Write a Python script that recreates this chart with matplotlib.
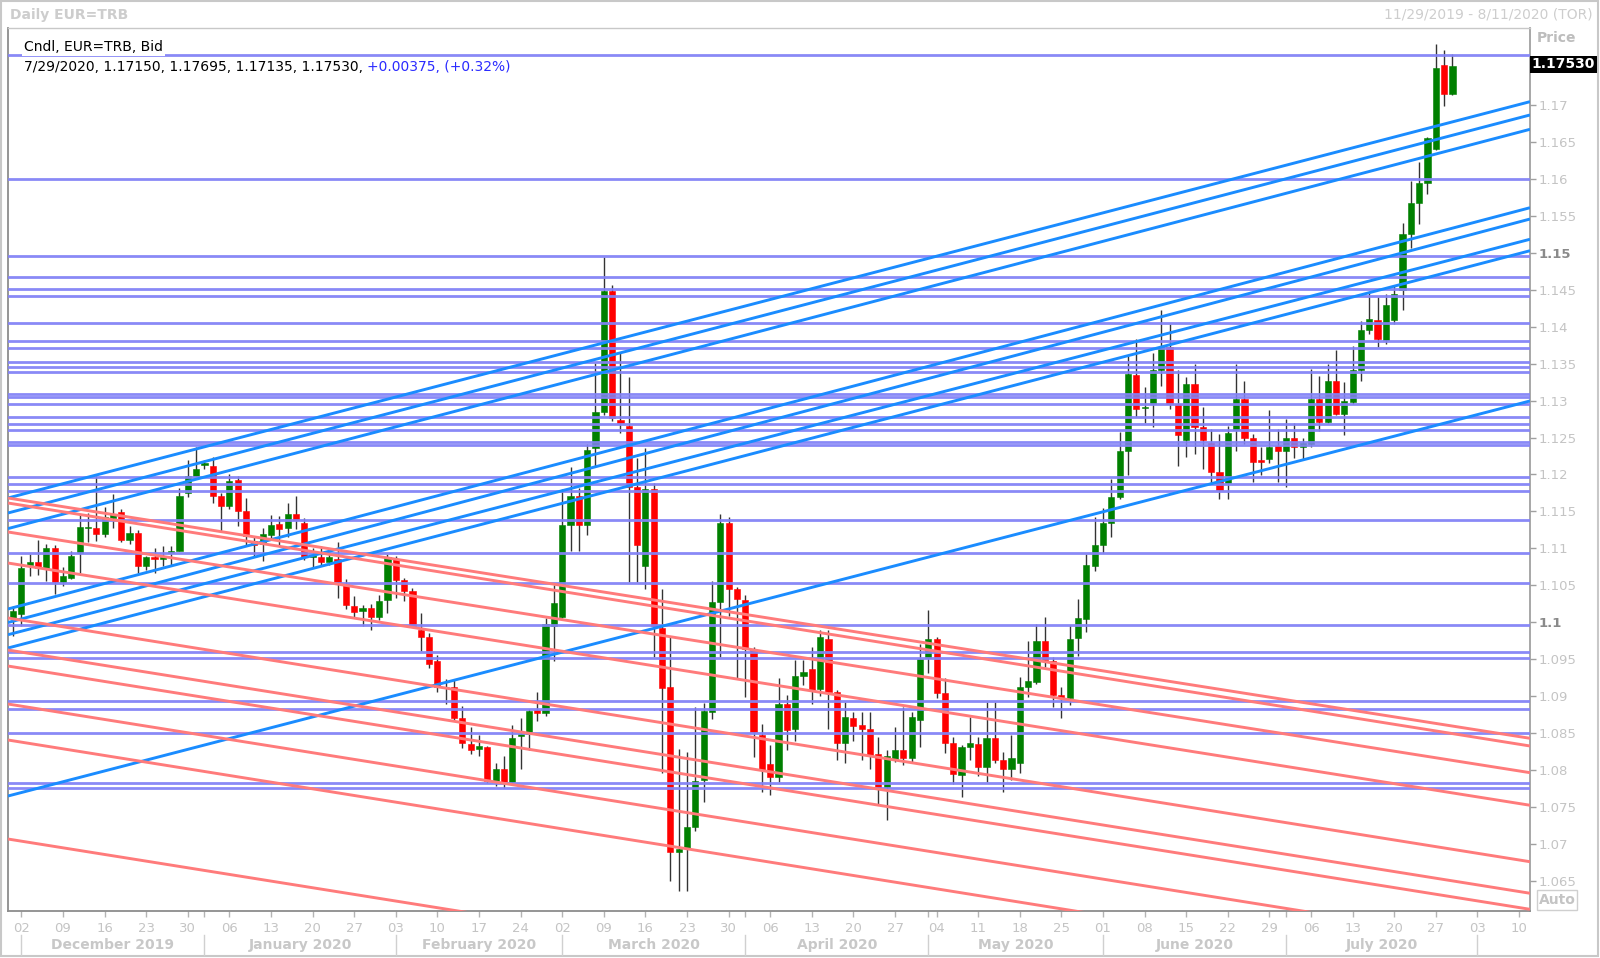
import numpy as np
import pandas as pd
import matplotlib
matplotlib.use("Agg")
import matplotlib.pyplot as plt
from matplotlib.patches import Rectangle
from matplotlib.lines import Line2D
import matplotlib.transforms as mtransforms

# ---------------- data (daily EUR/USD bid, 11/29/2019 .. 7/29/2020) ----------------
opens = [1.1006, 1.1011, 1.1077, 1.1082, 1.1074, 1.1101, 1.1055, 1.1060, 1.1094, 1.1127,
         1.1128, 1.1119, 1.1141, 1.1149, 1.1111, 1.1121, 1.1076, 1.1088, 1.1085, 1.1094,
         1.1096, 1.1175, 1.1198, 1.1213, 1.1211, 1.1171, 1.1157, 1.1192, 1.1151, 1.1110,
         1.1106, 1.1118, 1.1133, 1.1128, 1.1147, 1.1135, 1.1089, 1.1088, 1.1082, 1.1085,
         1.1052, 1.1022, 1.1015, 1.1019, 1.1007, 1.1030, 1.1086, 1.1057, 1.1043, 1.0989,
         1.0980, 1.0948, 1.0912, 1.0912, 1.0871, 1.0835, 1.0828, 1.0831, 1.0785, 1.0802,
         1.0784, 1.0846, 1.0849, 1.0881, 1.0877, 1.0995, 1.1007, 1.1132, 1.1171, 1.1132,
         1.1236, 1.1284, 1.1448, 1.1274, 1.1265, 1.1183, 1.1076, 1.1181, 1.0992, 1.0912,
         1.0689, 1.0695, 1.0723, 1.0787, 1.0878, 1.1028, 1.1135, 1.1045, 1.1030, 1.0962,
         1.0848, 1.0808, 1.0790, 1.0889, 1.0855, 1.0927, 1.0937, 1.0910, 1.0978, 1.0906,
         1.0836, 1.0871, 1.0861, 1.0855, 1.0822, 1.0777, 1.0814, 1.0827, 1.0816, 1.0868,
         1.0951, 1.0978, 1.0904, 1.0836, 1.0793, 1.0831, 1.0835, 1.0804, 1.0844, 1.0814,
         1.0802, 1.0810, 1.0913, 1.0919, 1.0975, 1.0948, 1.0901, 1.0897, 1.0979, 1.1004,
         1.1076, 1.1104, 1.1135, 1.1169, 1.1232, 1.1335, 1.1290, 1.1295, 1.1341, 1.1372,
         1.1296, 1.1246, 1.1323, 1.1264, 1.1242, 1.1203, 1.1188, 1.1260, 1.1302, 1.1250,
         1.1219, 1.1221, 1.1239, 1.1232, 1.1250, 1.1237, 1.1241, 1.1302, 1.1271, 1.1327,
         1.1282, 1.1298, 1.1341, 1.1395, 1.1409, 1.1382, 1.1409, 1.1449, 1.1525, 1.1568,
         1.1595, 1.1641, 1.1754, 1.17150]
highs = [1.1022, 1.1090, 1.1092, 1.1112, 1.1106, 1.1105, 1.1075, 1.1096, 1.1146, 1.1148,
         1.1198, 1.1156, 1.1173, 1.1153, 1.1130, 1.1125, 1.1090, 1.1101, 1.1103, 1.1103,
         1.1182, 1.1220, 1.1237, 1.1219, 1.1224, 1.1175, 1.1200, 1.1198, 1.1168, 1.1117,
         1.1128, 1.1145, 1.1144, 1.1162, 1.1171, 1.1141, 1.1101, 1.1103, 1.1094, 1.1108,
         1.1058, 1.1036, 1.1024, 1.1025, 1.1037, 1.1093, 1.1090, 1.1060, 1.1047, 1.1012,
         1.0986, 1.0956, 1.0923, 1.0923, 1.0887, 1.0858, 1.0848, 1.0833, 1.0810, 1.0819,
         1.0861, 1.0871, 1.0882, 1.0906, 1.1006, 1.1051, 1.1180, 1.1210, 1.1182, 1.1241,
         1.1351, 1.1494, 1.1457, 1.1366, 1.1332, 1.1222, 1.1236, 1.1188, 1.1045, 1.0981,
         1.0829, 1.0824, 1.0886, 1.0891, 1.1056, 1.1146, 1.1143, 1.1048, 1.1037, 1.0967,
         1.0863, 1.0834, 1.0924, 1.0901, 1.0949, 1.0949, 1.0967, 1.0989, 1.0989, 1.0909,
         1.0892, 1.0879, 1.0879, 1.0879, 1.0845, 1.0827, 1.0858, 1.0886, 1.0879, 1.0970,
         1.1017, 1.0980, 1.0925, 1.0845, 1.0834, 1.0872, 1.0845, 1.0892, 1.0892, 1.0825,
         1.0847, 1.0926, 1.0975, 1.0998, 1.1007, 1.0953, 1.0912, 1.0996, 1.1032, 1.1092,
         1.1142, 1.1154, 1.1194, 1.1257, 1.1361, 1.1383, 1.1319, 1.1365, 1.1422, 1.1404,
         1.1341, 1.1332, 1.1349, 1.1292, 1.1262, 1.1255, 1.1265, 1.1349, 1.1326, 1.1255,
         1.1237, 1.1287, 1.1262, 1.1275, 1.1269, 1.1250, 1.1343, 1.1333, 1.1349, 1.1368,
         1.1325, 1.1374, 1.1408, 1.1446, 1.1440, 1.1444, 1.1455, 1.1540, 1.1597, 1.1623,
         1.1657, 1.1783, 1.1775, 1.17695]
lows = [1.0981, 1.0995, 1.1063, 1.1064, 1.1056, 1.1038, 1.1049, 1.1058, 1.1067, 1.1108,
        1.1110, 1.1115, 1.1128, 1.1108, 1.1106, 1.1067, 1.1071, 1.1067, 1.1076, 1.1078,
        1.1096, 1.1169, 1.1198, 1.1207, 1.1161, 1.1124, 1.1153, 1.1130, 1.1103, 1.1090,
        1.1083, 1.1114, 1.1103, 1.1115, 1.1126, 1.1084, 1.1075, 1.1076, 1.1078, 1.1033,
        1.1018, 1.1006, 1.0995, 1.0990, 1.1003, 1.1013, 1.1033, 1.1029, 1.0993, 1.0961,
        1.0938, 1.0905, 1.0889, 1.0866, 1.0830, 1.0822, 1.0819, 1.0783, 1.0779, 1.0776,
        1.0781, 1.0801, 1.0827, 1.0866, 1.0873, 1.0947, 1.1006, 1.1096, 1.1096, 1.1118,
        1.1211, 1.1281, 1.1272, 1.1256, 1.1054, 1.1054, 1.1045, 1.0953, 1.0796, 1.0650,
        1.0636, 1.0636, 1.0717, 1.0757, 1.0869, 1.0953, 1.1009, 1.0925, 1.0899, 1.0818,
        1.0770, 1.0766, 1.0784, 1.0827, 1.0840, 1.0915, 1.0890, 1.0900, 1.0855, 1.0814,
        1.0810, 1.0840, 1.0814, 1.0801, 1.0753, 1.0733, 1.0811, 1.0807, 1.0811, 1.0831,
        1.0932, 1.0897, 1.0823, 1.0781, 1.0764, 1.0813, 1.0792, 1.0784, 1.0810, 1.0771,
        1.0787, 1.0796, 1.0899, 1.0916, 1.0940, 1.0886, 1.0871, 1.0888, 1.0955, 1.0987,
        1.1070, 1.1094, 1.1115, 1.1167, 1.1199, 1.1278, 1.1269, 1.1264, 1.1320, 1.1288,
        1.1212, 1.1224, 1.1228, 1.1208, 1.1188, 1.1167, 1.1167, 1.1232, 1.1241, 1.1190,
        1.1199, 1.1215, 1.1190, 1.1183, 1.1222, 1.1221, 1.1237, 1.1259, 1.1269, 1.1280,
        1.1254, 1.1296, 1.1326, 1.1390, 1.1373, 1.1377, 1.1404, 1.1422, 1.1507, 1.1539,
        1.1580, 1.1639, 1.1699, 1.17135]
closes = [1.1015, 1.1074, 1.1081, 1.1074, 1.1100, 1.1055, 1.1063, 1.1090, 1.1129, 1.1129,
          1.1119, 1.1142, 1.1147, 1.1111, 1.1121, 1.1076, 1.1088, 1.1085, 1.1088, 1.1097,
          1.1171, 1.1198, 1.1208, 1.1215, 1.1171, 1.1157, 1.1191, 1.1151, 1.1117, 1.1104,
          1.1119, 1.1131, 1.1126, 1.1146, 1.1138, 1.1088, 1.1091, 1.1082, 1.1088, 1.1054,
          1.1024, 1.1014, 1.1019, 1.1007, 1.1029, 1.1088, 1.1057, 1.1042, 1.0995, 1.0980,
          1.0943, 1.0912, 1.0913, 1.0871, 1.0837, 1.0827, 1.0833, 1.0785, 1.0802, 1.0784,
          1.0843, 1.0849, 1.0880, 1.0877, 1.0998, 1.1026, 1.1132, 1.1171, 1.1132, 1.1233,
          1.1284, 1.1448, 1.1276, 1.1270, 1.1183, 1.1104, 1.1181, 1.0995, 1.0911, 1.0689,
          1.0693, 1.0723, 1.0785, 1.0880, 1.1027, 1.1135, 1.1045, 1.1031, 1.0964, 1.0852,
          1.0800, 1.0790, 1.0889, 1.0854, 1.0927, 1.0933, 1.0909, 1.0980, 1.0906, 1.0837,
          1.0872, 1.0859, 1.0855, 1.0821, 1.0777, 1.0819, 1.0827, 1.0816, 1.0872, 1.0950,
          1.0978, 1.0904, 1.0837, 1.0795, 1.0831, 1.0837, 1.0804, 1.0844, 1.0814, 1.0802,
          1.0817, 1.0913, 1.0921, 1.0975, 1.0949, 1.0901, 1.0897, 1.0978, 1.1006, 1.1077,
          1.1104, 1.1135, 1.1170, 1.1232, 1.1336, 1.1289, 1.1292, 1.1341, 1.1372, 1.1296,
          1.1254, 1.1323, 1.1264, 1.1246, 1.1203, 1.1179, 1.1256, 1.1302, 1.1250, 1.1217,
          1.1217, 1.1237, 1.1232, 1.1250, 1.1237, 1.1242, 1.1302, 1.1271, 1.1327, 1.1282,
          1.1300, 1.1341, 1.1395, 1.1410, 1.1383, 1.1430, 1.1444, 1.1526, 1.1567, 1.1595,
          1.1655, 1.1750, 1.1715, 1.17530]

# horizontal drawn price levels
h_levels = [1.17677, 1.15999, 1.14957, 1.14677, 1.14514, 1.14419, 1.14054, 1.13811,
            1.13712, 1.13522, 1.13459, 1.13383, 1.13095, 1.13053, 1.12950, 1.12774,
            1.12683, 1.12602, 1.12444, 1.12395, 1.11970, 1.11871, 1.11781, 1.11384,
            1.10934, 1.10528, 1.09957, 1.09598, 1.09521, 1.08939, 1.08823, 1.08506,
            1.07829, 1.07762]
# rising trend lines: price at left edge / right edge of the chart
blue_start = [1.11682, 1.11479, 1.11268, 1.10180, 1.09997, 1.09832, 1.09652, 1.07649]
blue_end = [1.17045, 1.16865, 1.16671, 1.15610, 1.15457, 1.15183, 1.15028, 1.12995]
# falling trend lines
red_start = [1.11682, 1.11614, 1.11222, 1.10802, 1.10058, 1.09625, 1.09408, 1.08894, 1.08407, 1.07067]
red_end = [1.08430, 1.08326, 1.07965, 1.07524, 1.06760, 1.06333, 1.06116, 1.05600, 1.05106, 1.03773]

y_ticks = [1.065, 1.07, 1.075, 1.08, 1.085, 1.09, 1.095, 1.1, 1.105, 1.11, 1.115, 1.12,
           1.125, 1.13, 1.135, 1.14, 1.145, 1.15, 1.155, 1.16, 1.165, 1.17]
bold_ticks = [1.1, 1.15]
month_names = ["December 2019", "January 2020", "February 2020", "March 2020",
               "April 2020", "May 2020", "June 2020", "July 2020"]

# ---------------- figure ----------------
W, H = 1600, 958
fig = plt.figure(figsize=(W / 100, H / 100), dpi=100)
fig.patch.set_facecolor("white")
L, R, T, B = 8, 1530, 28, 911
ax = fig.add_axes([L / W, 1 - B / H, (R - L) / W, (B - T) / H])

dates = pd.bdate_range("2019-11-29", "2020-07-29")
pos = np.arange(len(dates)) - 1          # Monday 2 Dec 2019 -> 0
XMIN, XMAX = -1.61, 181.32
YMIN, YMAX = 1.06093, 1.18042
ax.set_xlim(XMIN, XMAX)
ax.set_ylim(YMIN, YMAX)

o = np.array(opens); h = np.array(highs); lo = np.array(lows); c = np.array(closes)
up = c >= o
col = np.where(up, "#008000", "#ff0000")
ax.vlines(pos, lo, h, color="#333333", lw=1.0, zorder=2)
body_bottom = np.minimum(o, c)
body_h = np.maximum(np.abs(c - o), 0.00007)
ax.bar(pos, body_h, bottom=body_bottom, width=0.74, color=col, edgecolor=col,
       linewidth=0.4, zorder=3)

for lv in h_levels:
    ax.axhline(lv, color="#8383f6", lw=2.0, zorder=4, alpha=0.95)
for s, e in zip(blue_start, blue_end):
    ax.plot([XMIN, XMAX], [s, e], color="#1a8cff", lw=2.1, zorder=5, solid_capstyle="butt")
for s, e in zip(red_start, red_end):
    ax.plot([XMIN, XMAX], [s, e], color="#ff7b7b", lw=2.1, zorder=5, solid_capstyle="butt")

# axes styling
for sp in ["left", "bottom"]:
    ax.spines[sp].set_color("#8c8c8c"); ax.spines[sp].set_linewidth(1.3)
ax.spines["right"].set_color("#a0a0a0"); ax.spines["right"].set_linewidth(1.3)
ax.spines["top"].set_color("#c8c8c8"); ax.spines["top"].set_linewidth(1.0)

ax.yaxis.tick_right()
ax.set_yticks(y_ticks)
ax.set_yticklabels([("%.3f" % v).rstrip("0") for v in y_ticks])
for lab, v in zip(ax.get_yticklabels(), y_ticks):
    if any(abs(v - b) < 1e-9 for b in bold_ticks):
        lab.set_fontweight("bold"); lab.set_color("#8a8a8a")
    else:
        lab.set_color("#c4c4c4")
ax.tick_params(axis="y", direction="out", length=4, width=1, color="#a0a0a0",
               labelsize=9.5, pad=2)

all_days = pd.bdate_range("2019-11-29", "2020-08-11")
all_pos = np.arange(len(all_days)) - 1
mondays = [(p, d) for p, d in zip(all_pos, all_days) if d.weekday() == 0 and p >= 0]
ax.set_xticks([p for p, _ in mondays])
ax.set_xticklabels(["%02d" % d.day for _, d in mondays])
month_starts = []
prev = None
for p, d in zip(all_pos, all_days):
    if p >= 0 and (prev is None or d.month != prev.month):
        month_starts.append(p)
    prev = d
ax.set_xticks(month_starts, minor=True)
ax.tick_params(axis="x", which="both", direction="out", length=4, width=1,
               color="#b4b4b4", labelsize=9.5, labelcolor="#c4c4c4", pad=4)

# month separators and labels
trans = mtransforms.blended_transform_factory(ax.transData, fig.transFigure)
for p in month_starts:
    fig.add_artist(Line2D([p, p], [1 - 935 / H, 1 - 955 / H], transform=trans,
                          color="#d0d0d0", lw=1))
for k, name in enumerate(month_names):
    mid = (month_starts[k] + month_starts[k + 1]) / 2
    fig.text(mid, 1 - 945 / H, name, transform=trans, ha="center", va="center",
             fontsize=10, fontweight="bold", color="#c8c8c8")

# outer frame
fig.add_artist(Rectangle((1 / W, 2 / H), 1597 / W, 955 / H, transform=fig.transFigure,
                         fill=False, edgecolor="#c8c8c8", lw=1.5))

# titles
fig.text(10 / W, 1 - 15 / H, "Daily EUR=TRB", fontsize=10, fontweight="bold",
         color="#cdcdcd", va="center", ha="left")
fig.text(1593 / W, 1 - 15 / H, "11/29/2019 - 8/11/2020 (TOR)", fontsize=10,
         color="#cdcdcd", va="center", ha="right")
fig.text(1537 / W, 1 - 38 / H, "Price", fontsize=10, fontweight="bold",
         color="#bdbdbd", va="center", ha="left")

fig.text(24 / W, 1 - 47 / H, "Cndl, EUR=TRB, Bid", fontsize=10, color="black",
         va="center", ha="left", zorder=10,
         bbox=dict(facecolor="white", edgecolor="none", pad=1.5))
t1 = fig.text(24 / W, 1 - 67 / H, "7/29/2020, 1.17150, 1.17695, 1.17135, 1.17530, ",
              fontsize=10, color="black", va="center", ha="left", zorder=10)
fig.canvas.draw()
bb = t1.get_window_extent()
fig.text(bb.x1 / W, 1 - 67 / H, "+0.00375, (+0.32%)", fontsize=10, color="#2b2bff",
         va="center", ha="left", zorder=10)

# last price box
fig.add_artist(Rectangle((1530 / W, 1 - 73 / H), 67 / W, 17 / H, transform=fig.transFigure,
                         facecolor="black", edgecolor="none"))
fig.text(1563 / W, 1 - 64.5 / H, "1.17530", fontsize=10, fontweight="bold", color="white",
         va="center", ha="center")

# Auto box
fig.add_artist(Rectangle((1537 / W, 1 - 910 / H), 40 / W, 20 / H, transform=fig.transFigure,
                         facecolor="white", edgecolor="#cfcfcf", lw=1))
fig.text(1557 / W, 1 - 900 / H, "Auto", fontsize=10, fontweight="bold", color="#c4c4c4",
         va="center", ha="center")

fig.savefig("out.png", dpi=100)
